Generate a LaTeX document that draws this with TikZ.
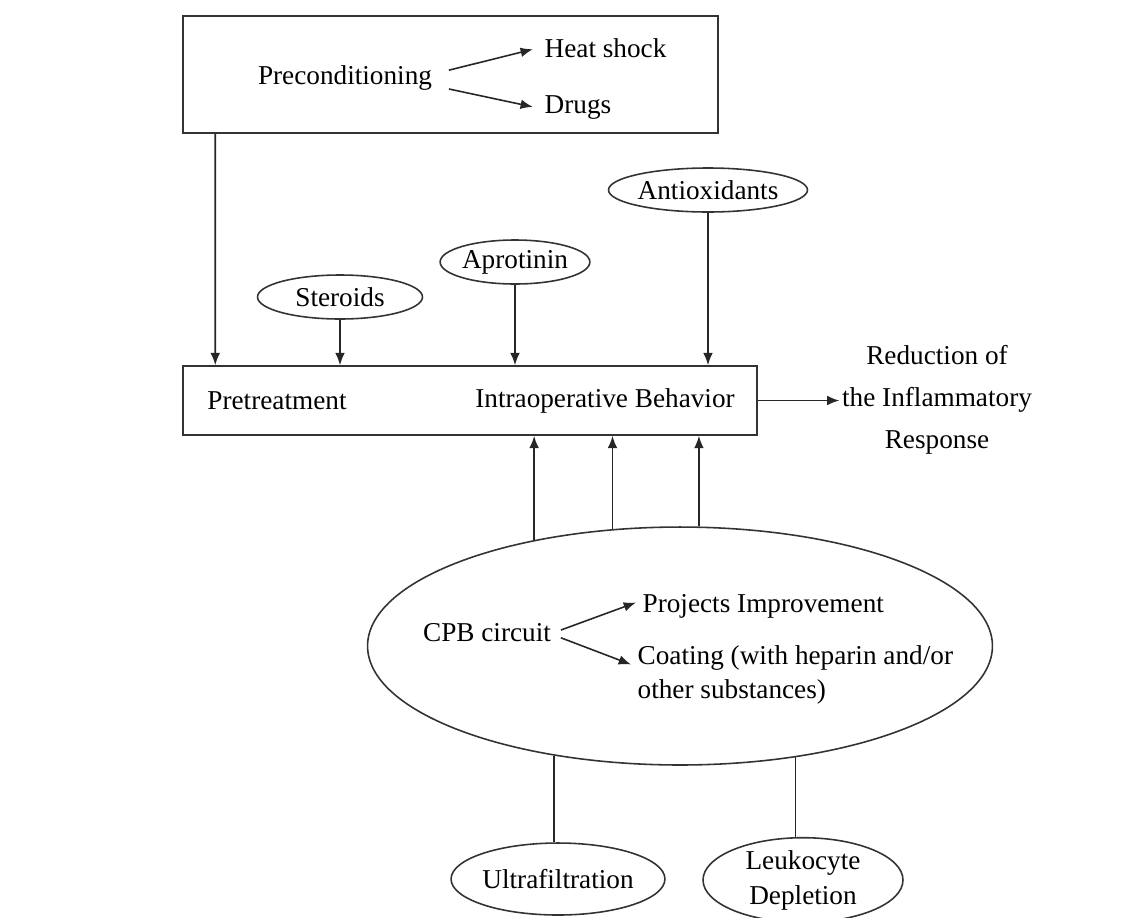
\documentclass[tikz,border=0pt]{standalone}
\usepackage{fontspec}
\setmainfont{Liberation Serif}
\usetikzlibrary{shapes,arrows,arrows.meta}
\usetikzlibrary{calc}

\newcommand{\figfont}{\fontsize{15.5}{19}\selectfont}

\begin{document}
\begin{tikzpicture}[x=0.02cm,y=-0.02cm,font=\figfont,
	line width=0.9pt,
	arr/.style={-{Latex[length=7pt,width=5.5pt]},draw=black!85},
	oval/.style={ellipse,draw=black!80,inner sep=0pt,minimum height=0.88cm},
	box/.style={rectangle,draw=black!80,inner sep=0pt}]
	\useasboundingbox (0,0) rectangle (1138,917);
	
	\begin{scope}
	\node[box,minimum width=10.7cm,minimum height=2.34cm] at (450.5,74.5) (top) {};
	\node at (345,78) (pre) {Preconditioning};
	\node[anchor=west] at (538,48) (heat) {Heat shock};
	\node[anchor=west] at (538,108) (drugs) {Drugs};
	\draw[arr,shorten <=6pt,shorten >=3pt] ([yshift=3pt]pre.east) -- (heat.west);
	\draw[arr,shorten <=6pt,shorten >=3pt] ([yshift=-5pt]pre.east) -- (drugs.west);
	\end{scope}
	
	\begin{scope}
	\node[box,minimum width=11.48cm,minimum height=1.38cm] at (470,400.5) (mid) {};
	\node at (277,401) (pret) {Pretreatment};
	\node at (605,401) (intra) {Intraoperative Behavior};
	
	\node[oval,minimum width=3.3cm] at (340,297) (ster) {Steroids};
	\node[oval,minimum width=2.8cm] at (515,262) (apro) {Aprotinin};
	\node[oval,minimum width=3.36cm] at (708,190) (anti) {Antioxidants};
	
	\draw[arr] ($(top.south west)+(33,0)$) -- ($(mid.north west)+(33,0)$);
	\draw[arr] (ster) -- (ster |- mid.north);
	\draw[arr] (apro) -- (apro |- mid.north);
	\draw[arr] (anti) -- (anti |- mid.north);
	
	\node[align=center,font=\fontsize{15.5}{24}\selectfont] at (937,400) (red) {Reduction of\\the Inflammatory\\Response};
	\draw[arr] (mid.east) -- ($(red.west |- mid.east)+(4,0)$);
	\end{scope}
	
	\begin{scope}
	\node[ellipse,draw=black!80,minimum width=12.5cm,minimum height=4.76cm] at (680,646) (cpb) {};
	\node at (487,633) (cpbtxt) {CPB circuit};
	\node[anchor=west] at (636,606) (proj) {Projects Improvement};
	\node[anchor=west,align=left,font=\fontsize{15.5}{19.5}\selectfont] at (631,675) (coat) {Coating (with heparin and/or\\other substances)};
	\draw[arr,shorten <=2pt] ([yshift=1pt]cpbtxt.east) -- ([yshift=2pt]proj.west);
	\draw[arr,shorten <=2pt] ([yshift=-2pt]cpbtxt.east) -- ([yshift=6pt]coat.west);
	
	\draw[arr] (cpb.144.5) -- (cpb.144.5 |- mid.south);
	\draw[arr] (cpb.120.4) -- (cpb.120.4 |- mid.south);
	\draw[arr] (cpb.81.9) -- (cpb.81.9 |- mid.south);
	
	\node[oval,minimum width=3.92cm,minimum height=1.44cm] at (558,879) (ultra) {Ultrafiltration};
	\node[oval,minimum width=4cm,minimum height=1.52cm,align=center,font=\fontsize{15.5}{20}\selectfont] at (803,880) (leuk) {Leukocyte\\Depletion};
	\draw[draw=black!85] (cpb.221.9) -- (cpb.221.9 |- ultra.north);
	\draw[draw=black!85] (cpb.316.7) -- (cpb.316.7 |- leuk.north);
	\end{scope}
\end{tikzpicture}
\end{document}
